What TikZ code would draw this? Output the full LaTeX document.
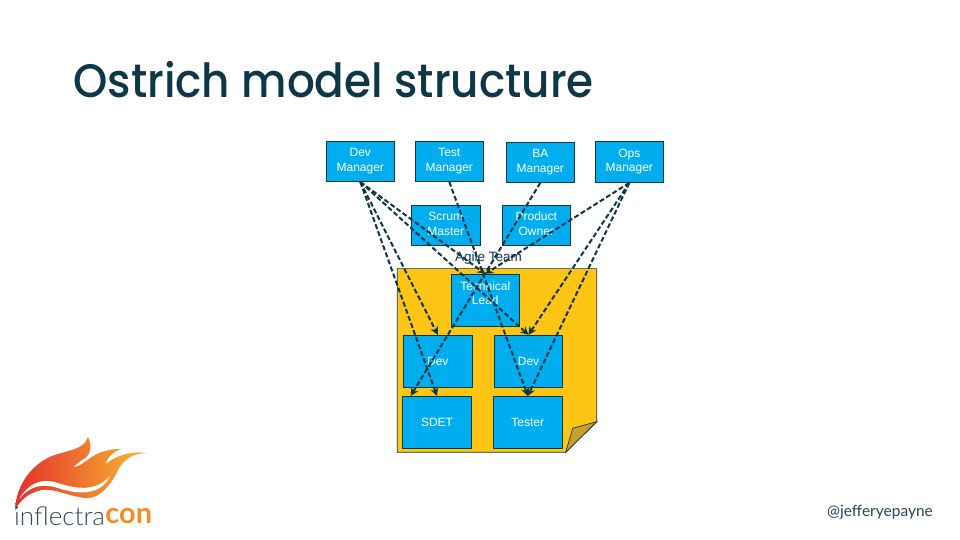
\documentclass[tikz,border=0pt]{standalone}
\usepackage{fontspec}
\setmainfont{Liberation Sans}
\newfontfamily\titlefont[FakeStretch=0.93]{Poppins Medium}
\newfontfamily\logofont{Lato}
\newfontfamily\logothin{Lato Light}
\usetikzlibrary{positioning}
\usetikzlibrary{arrows.meta}
\definecolor{boxblue}{RGB}{0,174,239}
\definecolor{inkteal}{RGB}{14,55,72}
\definecolor{noteyellow}{RGB}{255,197,20}
\definecolor{foldyellow}{RGB}{200,160,40}
\definecolor{flamered}{RGB}{226,48,44}
\definecolor{flameorange}{RGB}{245,140,40}
\definecolor{flameyellow}{RGB}{250,186,50}
\newcommand{\liftline}{\\[-11.5pt]\mbox{}}

\begin{document}
\begin{tikzpicture}[x=1pt,y=-1pt,
		box style/.style={rectangle,draw=inkteal,fill=boxblue,line width=0.7pt,text=white,align=center,inner sep=0pt,
			font=\fontsize{12}{14.5}\selectfont},
		small box/.style={box style,minimum width=68pt,minimum height=40pt},
		large box/.style={box style,minimum width=69pt,minimum height=52pt},
		dashed edge/.style={inkteal,-{Stealth[length=8pt,width=8pt]},dashed,line width=2pt,dash pattern=on 5pt off 2.5pt}
		]
		\useasboundingbox (0,0) rectangle (960,540);
		\fill[white] (0,0) rectangle (960,540);
		\node[anchor=west,text=inkteal,font=\titlefont\fontsize{47}{50}\selectfont] (title) at (70,80) {Ostrich model structure};
		
		% sticky note
		\draw[inkteal,fill=noteyellow,line width=0.7pt] (397.3,268.6) -- (596.7,268.6) -- (596.7,421.7) -- (565.7,452.3) -- (397.3,452.3) -- cycle;
		\draw[inkteal,fill=foldyellow,line width=0.7pt] (565.7,452.3) -- (572.7,428.3) -- (596.7,421.7) -- cycle;
		
		\node[small box] (devmgr) at (360.3,161.5) {Dev\\Manager\liftline};
		\node[small box] (testmgr) at (449.3,161.5) {Test\\Manager\liftline};
		\node[small box] (bamgr) at (540.3,162.5) {BA\\Manager\liftline};
		\node[small box,minimum height=41pt] (opsmgr) at (629.3,162) {Ops\\Manager\liftline};
		\node[small box,minimum width=69pt] (scrum) at (445.8,225.3) {Scrum\\Master\liftline};
		\node[small box] (owner) at (536.3,225.3) {Product\\Owner\liftline};
		\node[text=inkteal,font=\fontsize{13.5}{14}\selectfont] (agile) at (488.5,258) {Agile Team};
		\node[large box,minimum width=68pt] (tech) at (485.3,300.2) {Technical\\Lead\\\mbox{}};
		\node[large box] (devl) at (437.8,361.2) {Dev};
		\node[large box,minimum width=68pt] (devr) at (528.5,361.2) {Dev};
		\node[large box] (sdet) at (437,422.3) {SDET};
		\node[large box] (tester) at (527.8,422.3) {Tester};
		
		\draw[dashed edge] (devmgr.south) -- (tech.north);
		\draw[dashed edge] (devmgr.south) -- (devr.north);
		\draw[dashed edge] (devmgr.south) -- (devl.north);
		\draw[dashed edge] (devmgr.south) -- (sdet.north);
		\draw[dashed edge] (testmgr.south) -- (tester.north);
		\draw[dashed edge] (bamgr.south) -- (sdet.135);
		\draw[dashed edge] (opsmgr.south) -- (tech.north);
		\draw[dashed edge] (opsmgr.south) -- (devr.north);
		\draw[dashed edge] (opsmgr.south) -- (tester.north);
		
		% logo
		\shade[left color=flamered,middle color=flameorange,right color=flameyellow]
			(15,510) .. controls (16,485) and (32,464) .. (52,456)
			.. controls (68,450) and (84,450) .. (88,437)
			.. controls (93,448) and (90,456) .. (82,460)
			.. controls (78,463) and (75,465) .. (74,467)
			.. controls (82,466) and (86,460) .. (95,455)
			.. controls (104,450) and (114,449) .. (121,449)
			.. controls (114,452) and (107,456) .. (106,464)
			.. controls (112,458) and (130,450) .. (147,453)
			.. controls (134,453) and (124,459) .. (118,470)
			.. controls (112,484) and (100,498) .. (88,498)
			.. controls (72,498) and (56,488) .. (42,490)
			.. controls (30,492) and (20,500) .. (15,510) -- cycle;
		\fill[white] (19,499) .. controls (30,482) and (42,478) .. (58,483)
			.. controls (76,489) and (96,492) .. (110,476)
			.. controls (100,497) and (76,494) .. (58,488)
			.. controls (42,483) and (30,486) .. (19,499) -- cycle;
		\node[anchor=west,inner sep=0pt,text=inkteal!70!gray,font=\logothin\fontsize{26}{30}\selectfont] (inflectra) at (14,516) {inflectra};
		\node[right=0pt of inflectra,inner sep=0pt,text=flameorange,font=\logofont\bfseries\fontsize{29}{30}\selectfont] (con) {con};
		\node[anchor=east,inner sep=0pt,text=inkteal!80!gray,font=\logofont\fontsize{15.5}{17}\selectfont] (handle) at (933,512) {@jefferyepayne};
	\end{tikzpicture}
\end{document}
